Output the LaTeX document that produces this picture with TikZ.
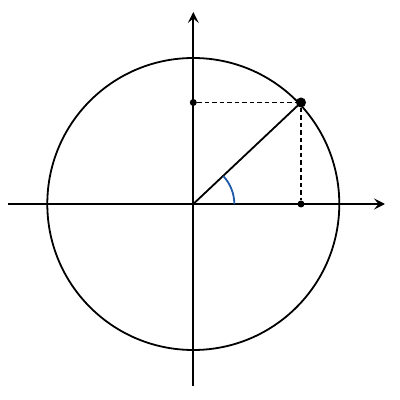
\documentclass[tikz,border=0pt]{standalone}
\usetikzlibrary{arrows.meta}
\begin{document}
\begin{tikzpicture}[x=1pt,y=1pt,
  axis/.style={line width=1.8pt,-{Stealth[length=11pt,width=11pt,inset=4.5pt]}},
  curve/.style={line width=1.8pt},
  dashline/.style={line width=1.3pt,dash pattern=on 4.5pt off 3pt},
  bigdot/.style={circle,fill=black,inner sep=0pt,minimum size=10pt},
  smalldot/.style={circle,fill=black,inner sep=0pt,minimum size=7pt}]
\useasboundingbox (0,0) rectangle (400,400);
\coordinate (O) at (193.3,196.0);
\coordinate (xs) at (8,196.0);
\coordinate (xe) at (385,196.0);
\coordinate (ys) at (193.3,14);
\coordinate (ye) at (193.3,388);
\coordinate (A) at (234.3,196.0);
\draw[curve] (O) circle[radius=146];
\draw[axis] (xs) -- (xe);
\draw[axis] (ys) -- (ye);
\node[bigdot] (P) at (301,297.5) {};
\node[smalldot] (Px) at (301,196.0) {};
\node[smalldot] (Py) at (193.3,297.5) {};
\draw[dashline] (Py) -- (P);
\draw[dashline] (P) -- (Px);
\draw[curve] (O) -- (P.center);
\draw[line width=1.8pt,color={rgb,255:red,30;green,90;blue,170}] (A) arc[start angle=0,end angle=43,radius=41];
\end{tikzpicture}
\end{document}
